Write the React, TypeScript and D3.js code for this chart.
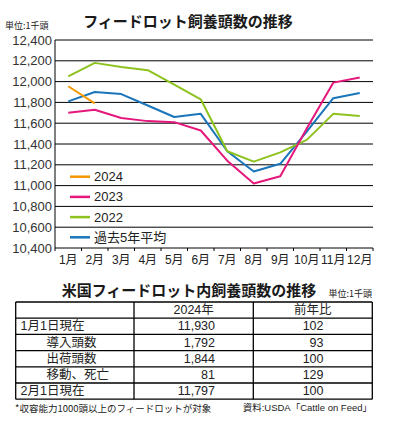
import React from "react";
import * as d3 from "d3";

const months = ["1月", "2月", "3月", "4月", "5月", "6月", "7月", "8月", "9月", "10月", "11月", "12月"];
const s2024 = [11955, 11790];
const s2023 = [11700, 11730, 11650, 11620, 11610, 11530, 11240, 11020, 11090, 11550, 11990, 12040];
const s2022 = [12050, 12180, 12140, 12110, 11970, 11830, 11330, 11230, 11320, 11440, 11690, 11670];
const sAvg = [11810, 11900, 11880, 11770, 11660, 11690, 11330, 11135, 11210, 11520, 11840, 11890];
const yTicks = [10400, 10600, 10800, 11000, 11200, 11400, 11600, 11800, 12000, 12200, 12400];

const seriesList = [
  { name: "2024", values: s2024, color: "#f39800" },
  { name: "2023", values: s2023, color: "#e5177b" },
  { name: "2022", values: s2022, color: "#8dc21f" },
  { name: "過去5年平均", values: sAvg, color: "#1a75bb" },
];

const tableHead = ["", "2024年", "前年比"];
const rowLabels = ["1月1日現在", "導入頭数", "出荷頭数", "移動、死亡", "2月1日現在"];
const rowIndent = [false, true, true, true, false];
const col2024 = ["11,930", "1,792", "1,844", "81", "11,797"];
const colRatio = ["102", "93", "100", "129", "100"];

const FONT = "'Liberation Sans', 'Noto Sans CJK JP', sans-serif";
const JP = "'Noto Sans CJK JP', sans-serif";

const App = () => {
  const left = 55;
  const right = 373;
  const top = 40;
  const bottom = 248;

  const x = d3.scaleBand<string>().domain(months).range([left, right]);
  const y = d3.scaleLinear().domain([10400, 12400]).range([bottom, top]);
  const line = d3
    .line<number>()
    .x((d, i) => (x(months[i]) as number) + x.bandwidth() / 2)
    .y((d) => y(d));

  // table geometry
  const tLeft = 15.7;
  const tRight = 372.3;
  const colX = [tLeft, 134, 253.3, tRight];
  const rowY = d3.range(7).map((i) => 302 + i * 16.2);

  return (
    <div style={{ position: "absolute", left: 0, top: 0 }}>
      <svg width={398} height={433} style={{ display: "block" }}>
        <text x={188} y={20} textAnchor="middle" dominantBaseline="central"
          fontFamily={JP} fontWeight="bold" fontSize={15} fill="#1a1a1a">
          フィードロット飼養頭数の推移
        </text>
        <text x={5} y={25} dominantBaseline="central" fontFamily={JP} fontSize={9} fill="#222">
          単位:1千頭
        </text>

        {yTicks.map((t) => (
          <g key={t}>
            <line x1={left} x2={right} y1={y(t)} y2={y(t)} stroke="#000" strokeWidth={1} />
            <text x={52} y={y(t)} textAnchor="end" dominantBaseline="central"
              fontFamily={FONT} fontSize={13} fill="#333">
              {d3.format(",")(t)}
            </text>
          </g>
        ))}
        <line x1={left} x2={left} y1={top} y2={bottom + 3} stroke="#000" strokeWidth={1} />
        {months.map((m, i) => (
          <g key={m}>
            <line x1={(x(m) as number) + x.bandwidth()} x2={(x(m) as number) + x.bandwidth()}
              y1={bottom} y2={bottom + 3} stroke="#000" strokeWidth={1} />
            <text x={(x(m) as number) + x.bandwidth() / 2} y={259.5} textAnchor="middle"
              dominantBaseline="central" fontFamily={FONT} fontSize={12} fill="#222">
              {m}
            </text>
          </g>
        ))}

        {seriesList.slice().reverse().map((s) => (
          <path key={s.name} d={line(s.values) as string} fill="none" stroke={s.color}
            strokeWidth={2} strokeLinejoin="round" />
        ))}

        {seriesList.map((s, i) => (
          <g key={s.name} transform={`translate(70, ${176.7 + i * 20.2})`}>
            <line x1={0} x2={20} y1={0} y2={0} stroke={s.color} strokeWidth={2.5} />
            <text x={24} y={0} dominantBaseline="central" fontFamily={FONT} fontSize={13} fill="#222">
              {s.name}
            </text>
          </g>
        ))}

        <text x={189} y={289} textAnchor="middle" dominantBaseline="central"
          fontFamily={JP} fontWeight="bold" fontSize={15} fill="#1a1a1a">
          米国フィードロット内飼養頭数の推移
        </text>
        <text x={372} y={293.5} textAnchor="end" dominantBaseline="central"
          fontFamily={JP} fontSize={9} fill="#222">
          単位:1千頭
        </text>

        {rowY.map((ry, i) => (
          <line key={i} x1={tLeft} x2={tRight} y1={ry} y2={ry} stroke="#000" strokeWidth={1.3} />
        ))}
        {colX.map((cx, i) => (
          <line key={i} x1={cx} x2={cx} y1={rowY[0]} y2={rowY[6]} stroke="#000" strokeWidth={1.3} />
        ))}
        {tableHead.map((h, i) => (
          <text key={i} x={(colX[i] + colX[i + 1]) / 2} y={(rowY[0] + rowY[1]) / 2}
            textAnchor="middle" dominantBaseline="central" fontFamily={FONT} fontSize={12.5} fill="#222">
            {h}
          </text>
        ))}
        {rowLabels.map((r, i) => {
          const cy = (rowY[i + 1] + rowY[i + 2]) / 2;
          return (
            <g key={r}>
              <text x={rowIndent[i] ? 46.5 : 20.5} y={cy} dominantBaseline="central"
                fontFamily={FONT} fontSize={12.5} fill="#222">
                {r}
              </text>
              <text x={215} y={cy} textAnchor="end" dominantBaseline="central"
                fontFamily={FONT} fontSize={12.5} fill="#222">
                {col2024[i]}
              </text>
              <text x={323.5} y={cy} textAnchor="end" dominantBaseline="central"
                fontFamily={FONT} fontSize={12.5} fill="#222">
                {colRatio[i]}
              </text>
            </g>
          );
        })}

        <text x={15} y={407.5} dominantBaseline="central" fontFamily={JP} fontSize={9.5} fill="#222">
          *収容能力1000頭以上のフィードロットが対象
        </text>
        <text x={372} y={407.5} textAnchor="end" dominantBaseline="central"
          fontFamily={FONT} fontSize={9.5} fill="#222">
          資料:USDA「Cattle on Feed」
        </text>
      </svg>
    </div>
  );
};

export default App;
